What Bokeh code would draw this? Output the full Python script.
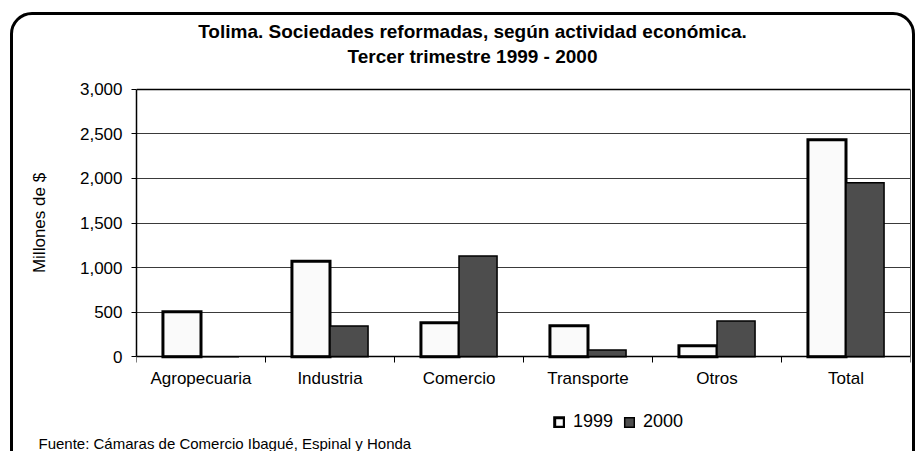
from bokeh.plotting import figure
from bokeh.models import (Range1d, FixedTicker, NumeralTickFormatter, Legend, LegendItem,
                          Title, Label, LinearAxis, Grid, ColumnDataSource, InlineStyleSheet)
from bokeh.embed import file_html
from bokeh.resources import INLINE

# ---- data ----
categories = ["Agropecuaria", "Industria", "Comercio", "Transporte", "Otros", "Total"]
values_1999 = [505, 1070, 380, 347, 123, 2435]
values_2000 = [0, 344, 1130, 76, 400, 1952]
series_names = ["1999", "2000"]
y_ticks = [0, 500, 1000, 1500, 2000, 2500, 3000]
title_line1 = "Tolima. Sociedades reformadas, según actividad económica."
title_line2 = "Tercer trimestre 1999 - 2000"
y_label = "Millones de $"
source_note = "Fuente: Cámaras de Comercio Ibagué, Espinal y Honda"

FONT = "Liberation Sans"
n = len(categories)
bar_w = 0.295
centers = [i + 0.5 for i in range(n)]
y_max = y_ticks[-1]

# ---- layout (pixels) ----
# The plotting frame is taller than the value area (0..3000) by the same amount above
# and below, so the titles and the legend sit inside it and the axis title stays centred.
W, H = 915, 451
B_LEFT, B_RIGHT, B_TOP, B_BOTTOM = 136, 5, 13, 18
VALUE_TOP_PX, VALUE_PX = 89, 268          # canvas y of the 3000 line, height of 0..3000
PAD_PX = VALUE_TOP_PX - B_TOP             # frame room above 3000 (and below 0)
per_px = y_max / VALUE_PX
frame_w = W - B_LEFT - B_RIGHT


def data_x(px):
    return (px - B_LEFT) * n / frame_w


def data_y(py):
    return y_max + (VALUE_TOP_PX - py) * per_px


src = ColumnDataSource(dict(
    x1999=[c - bar_w / 2 for c in centers],
    x2000=[c + bar_w / 2 for c in centers],
    v1999=values_1999,
    v2000=values_2000,
))

p = figure(width=W, height=H, output_backend="svg", toolbar_location=None,
           x_range=Range1d(0, n),
           y_range=Range1d(-PAD_PX * per_px, y_max + PAD_PX * per_px),
           min_border_left=B_LEFT, min_border_right=B_RIGHT,
           min_border_top=B_TOP, min_border_bottom=B_BOTTOM)
p.background_fill_color = "white"
p.border_fill_color = "white"
p.outline_line_color = None

# rounded outer frame of the whole chart (pure CSS decoration)
p.stylesheets = [InlineStyleSheet(css="""
:host { position: relative; overflow: hidden; }
:host::after { content: ""; position: absolute; left: 10px; top: 12px; width: 905px; height: 470px;
  border: 3px solid #000; border-radius: 22px; box-sizing: border-box; pointer-events: none; }
""")]

# grid
p.xgrid.visible = False
p.ygrid.ticker = FixedTicker(ticks=y_ticks[:-1])
p.ygrid.grid_line_color = "#3a3a3a"
p.ygrid.grid_line_width = 1
# top edge of the plot area
p.add_layout(Grid(dimension=1, ticker=FixedTicker(ticks=[y_max]),
                  grid_line_color="black", grid_line_width=1.5))

r1 = p.vbar(x="x1999", top="v1999", bottom=0, width=bar_w, source=src,
            fill_color="#fafafa", line_color="black", line_width=3, line_join="miter")
r2 = p.vbar(x="x2000", top="v2000", bottom=0, width=bar_w, source=src,
            fill_color="#4d4d4d", line_color="black", line_width=1.5, line_join="miter")

# y axis
p.yaxis.bounds = (0, y_max)
p.yaxis.ticker = FixedTicker(ticks=y_ticks)
p.yaxis.formatter = NumeralTickFormatter(format="0,0")
p.yaxis.axis_line_color = "black"
p.yaxis.axis_line_width = 1.5
p.yaxis.major_tick_line_color = "black"
p.yaxis.major_tick_out = 5
p.yaxis.major_tick_in = 0
p.yaxis.minor_tick_line_color = None
p.yaxis.major_label_text_font = FONT
p.yaxis.major_label_text_font_size = "17px"
p.yaxis.major_label_text_color = "black"
p.yaxis.major_label_standoff = 9
p.yaxis.axis_label = y_label
p.yaxis.axis_label_text_font = FONT
p.yaxis.axis_label_text_font_size = "17px"
p.yaxis.axis_label_text_font_style = "normal"
p.yaxis.axis_label_text_color = "black"
p.yaxis.axis_label_standoff = 28

# x axis at value 0: labels at category centres, ticks at category boundaries
p.xaxis.fixed_location = 0
p.xaxis.ticker = FixedTicker(ticks=centers, minor_ticks=list(range(n + 1)))
p.xaxis.major_label_overrides = {c: cat for c, cat in zip(centers, categories)}
p.xaxis.axis_line_color = "black"
p.xaxis.axis_line_width = 1.5
p.xaxis.major_tick_line_color = None
p.xaxis.major_tick_out = 0
p.xaxis.major_tick_in = 0
p.xaxis.minor_tick_line_color = "black"
p.xaxis.minor_tick_out = 6
p.xaxis.minor_tick_in = 0
p.xaxis.major_label_text_font = FONT
p.xaxis.major_label_text_font_size = "17px"
p.xaxis.major_label_text_color = "black"
p.xaxis.major_label_standoff = 6

# right edge of the plot area
p.add_layout(LinearAxis(bounds=(0, y_max), ticker=FixedTicker(ticks=[]),
                        axis_line_color="#555555", axis_line_width=1,
                        major_tick_line_color=None, minor_tick_line_color=None), "right")

# titles (two centred lines above the plot area)
TITLE_CX = 472
for text, py in [(title_line1, 31), (title_line2, 56)]:
    p.add_layout(Label(x=data_x(TITLE_CX), y=data_y(py), text=text,
                       text_align="center", text_baseline="middle",
                       text_font=FONT, text_font_size="19px", text_font_style="bold",
                       text_color="black"))

# legend (inside the frame, under the category labels)
legend = Legend(items=[LegendItem(label=series_names[0], renderers=[r1]),
                       LegendItem(label=series_names[1], renderers=[r2])],
                orientation="horizontal", location=(417, 0),
                glyph_width=12, glyph_height=12, label_standoff=8, spacing=10,
                label_height=12, label_text_line_height=0.8,
                padding=0, margin=0, border_line_color=None, background_fill_alpha=0,
                label_text_font=FONT, label_text_font_size="18px", label_text_color="black")
p.add_layout(legend, "center")

# source note
p.add_layout(Title(text=source_note, align="left", offset=-98, text_font=FONT,
                   text_font_size="15px", text_font_style="normal", text_color="black",
                   text_line_height=0.85, standoff=0), "below")

open("out.html", "w").write(file_html(p, INLINE))
